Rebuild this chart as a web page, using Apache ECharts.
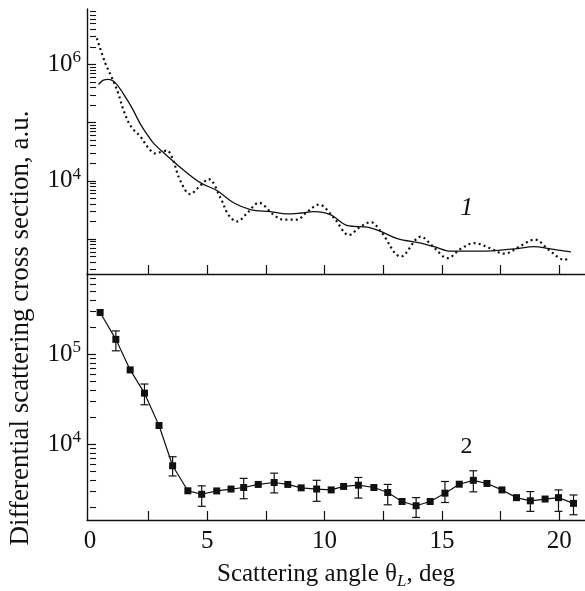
<!DOCTYPE html>
<html><head><meta charset="utf-8">
<script src="https://cdn.jsdelivr.net/npm/echarts@6/dist/echarts.min.js"></script>
<style>html,body{margin:0;padding:0;background:#fff}#c{width:585px;height:591px}</style>
</head><body><div id="c"></div>
<script>
// ---- Top panel: theoretical curves (angle, deg ; cross section, a.u.) ----
const solidAngles = [0.36,0.55,0.78,1.10,1.57,1.85,2.14,2.43,2.71,3.28,3.85,4.70,5.41,6.12,6.84,7.69,8.40,9.00,9.54,10.26,10.97,11.82,12.39,13.10,14.10,14.67,15.38,16.67,18.09,18.94,19.50,20.50];
const solidValues = [4.5e5,5.3e5,5.5e5,4.7e5,2.5e5,1.6e5,9.5e4,6.3e4,4.4e4,2.7e4,1.7e4,9.3e3,6.8e3,4.2e3,3.2e3,2.95e3,2.7e3,2.8e3,2.95e3,2.6e3,1.7e3,1.6e3,1.35e3,1.02e3,850,740,620,620,680,740,690,600];
const dottedAngles = [0.29,0.64,0.93,1.20,1.42,1.75,2.14,2.50,2.78,3.05,3.28,3.50,3.85,4.27,4.65,5.06,5.56,5.90,6.27,6.70,7.19,7.83,8.26,8.83,9.20,9.76,10.40,11.04,11.50,11.97,12.40,13.25,14.10,14.60,15.24,15.80,16.38,17.00,17.66,18.30,18.95,19.60,20.23,20.44];
const dottedValues = [2.8e6,1.07e6,5.9e5,3.2e5,1.66e5,8.5e4,5.8e4,3.6e4,2.95e4,3.16e4,3.3e4,2.5e4,1.0e4,5.9e3,7.9e3,1.07e4,5.1e3,2.6e3,2.0e3,2.8e3,4.2e3,2.6e3,2.15e3,2.15e3,2.8e3,3.9e3,2.3e3,1.17e3,1.6e3,1.95e3,1.35e3,500,1.1e3,760,470,680,850,710,560,740,980,630,440,480];

// ---- Bottom panel: experiment ----
const expAngles = [0.43,1.10,1.71,2.32,2.94,3.52,4.17,4.76,5.40,6.01,6.55,7.17,7.85,8.43,9.00,9.66,10.28,10.81,11.44,12.10,12.69,13.30,13.90,14.50,15.13,15.74,16.34,16.92,17.56,18.18,18.77,19.40,19.97,20.61];
const expValues = [2.9e5,1.46e5,6.7e4,3.7e4,1.62e4,5.8e3,3.06e3,2.8e3,3.05e3,3.2e3,3.33e3,3.6e3,3.78e3,3.6e3,3.3e3,3.2e3,3.13e3,3.42e3,3.53e3,3.33e3,2.93e3,2.33e3,2.09e3,2.33e3,2.88e3,3.62e3,4.0e3,3.69e3,3.13e3,2.57e3,2.37e3,2.48e3,2.57e3,2.22e3];
const errLow  = [null,1.09e5,null,2.75e4,null,4.47e3,null,2.06e3,null,null,2.5e3,null,2.9e3,null,null,2.34e3,null,null,2.54e3,null,2.14e3,null,1.55e3,null,2.27e3,null,2.98e3,null,null,null,1.81e3,null,1.81e3,1.66e3];
const errHigh = [null,1.81e5,null,4.67e4,null,7.3e3,null,3.47e3,null,null,4.2e3,null,4.8e3,null,null,4.0e3,null,null,4.3e3,null,3.6e3,null,2.57e3,null,3.88e3,null,5.1e3,null,null,null,3.0e3,null,3.13e3,2.75e3];

// ---- Axis ticks / labels ----
const xLabelValues = [0,5,10,15,20];
const xTickValues = [2.5,5,7.5,10,12.5,15,17.5,20];
const topYLabelValues = [1e4,1e6];
const bottomYLabelValues = [1e4,1e5];
const topYMajor = [1e3,1e4,1e5,1e6];
const bottomYMajor = [1e4,1e5];
const minorMultipliers = [2,3,4,5,6,7,8,9];
const topDecades = [1e2,1e3,1e4,1e5,1e6];
const bottomDecades = [1e3,1e4,1e5];

// curve labels: [text, angle, value]
const topCurveLabel = ['1', 16.06, 3.45e3];
const bottomCurveLabel = ['2', 16.05, 9.4e3];

const xTitle = 'Scattering angle θ';
const xTitleSub = 'L';
const xTitleEnd = ', deg';
const yTitle = 'Differential scattering cross section, a.u.';

const FONT = '"Liberation Serif", "Times New Roman", serif';
const INK = '#111';
const lg = Math.log10;

const TOP_MIN = 2.40, TOP_MAX = 6.95, BOT_MIN = 3.162, BOT_MAX = 5.889;
const X_MIN = -0.13, X_MAX = 21.1;

function minorTicks(decades, lo, hi){
  const out = [];
  decades.forEach(d => minorMultipliers.forEach(k => { const v = lg(k*d); if (v >= lo && v <= hi) out.push(v); }));
  return out;
}
const zip = (xs, ys) => xs.map((x,i) => [x, lg(ys[i])]);

const chart = echarts.init(document.getElementById('c'), null, {renderer:'canvas'});

const axisLineStyle = {color: INK, width: 1.4};
function xAxisDef(grid, showLabels){
  return {
    type:'value', gridIndex: grid, min: X_MIN, max: X_MAX,
    axisLine:{show:true, onZero:false, lineStyle: axisLineStyle},
    axisTick:{show:true, inside:true, length:9, customValues: xTickValues, lineStyle:{color:INK, width:1.2}},
    axisLabel:{show: showLabels, customValues: xLabelValues, margin: 9,
      fontFamily: FONT, fontSize: 25, color: INK},
    splitLine:{show:false}
  };
}
const supLabel = {
  show:true, margin:6, color: INK,
  formatter: v => '{b|10}{s|' + Math.round(v) + '}',
  rich: {
    b: {fontFamily: FONT, fontSize: 25, color: INK, lineHeight: 30},
    s: {fontFamily: FONT, fontSize: 17, color: INK, verticalAlign: 'top', lineHeight: 30, padding:[0,0,0,0]}
  }
};
function yMajor(grid, min, max, majors, labels){
  return {
    type:'value', gridIndex: grid, min, max, position:'left',
    axisLine:{show:true, onZero:false, lineStyle: axisLineStyle},
    axisTick:{show:true, inside:true, length:9, customValues: majors.map(lg), lineStyle:{color:INK, width:1.2}},
    axisLabel: Object.assign({customValues: labels.map(lg)}, supLabel),
    splitLine:{show:false}
  };
}
function yMinor(grid, min, max, decades){
  return {
    type:'value', gridIndex: grid, min, max, position:'left', offset:0,
    axisLine:{show:false},
    axisTick:{show:true, inside:true, length:6, customValues: minorTicks(decades, min, max), lineStyle:{color:INK, width:1.1}},
    axisLabel:{show:false},
    splitLine:{show:false}
  };
}

const errData = expAngles.map((x,i) => errLow[i] == null ? null : [x, lg(errLow[i]), lg(errHigh[i])]).filter(d => d);

const option = {
  animation:false,
  backgroundColor:'#fff',
  grid:[
    {left:87, right:0, top:9, height:265},
    {left:87, right:0, top:274, height:246}
  ],
  xAxis:[
    xAxisDef(0, false),
    Object.assign(xAxisDef(1, true), {
      name: '{a|' + xTitle + '}{sub|' + xTitleSub + '}{a|' + xTitleEnd + '}',
      nameLocation:'middle', nameGap: 38,
      nameTextStyle:{
        rich:{
          a:{fontFamily: FONT, fontSize: 25, color: INK, lineHeight: 32},
          sub:{fontFamily: FONT, fontSize: 17, fontStyle:'italic', color: INK, verticalAlign:'bottom', lineHeight: 32}
        }
      }
    })
  ],
  yAxis:[
    yMajor(0, TOP_MIN, TOP_MAX, topYMajor, topYLabelValues),
    yMinor(0, TOP_MIN, TOP_MAX, topDecades),
    yMajor(1, BOT_MIN, BOT_MAX, bottomYMajor, bottomYLabelValues),
    yMinor(1, BOT_MIN, BOT_MAX, bottomDecades)
  ],
  graphic:[{
    type:'text', x: 21, y: 328, rotation: Math.PI/2,
    style:{text: yTitle, font: '27px ' + FONT, fill: INK, align:'center', verticalAlign:'middle', textAlign:'center', textVerticalAlign:'middle'}
  }],
  series:[
    {type:'line', xAxisIndex:0, yAxisIndex:0, data: zip(solidAngles, solidValues), showSymbol:false, smooth:0.35,
     lineStyle:{color:INK, width:1.3}, silent:true},
    {type:'line', xAxisIndex:0, yAxisIndex:0, data: zip(dottedAngles, dottedValues), showSymbol:false, smooth:0.35,
     lineStyle:{color:INK, width:2.2, type:[2,3.2]}, silent:true},
    {type:'custom', xAxisIndex:1, yAxisIndex:2, data: errData, silent:true, z:3,
     renderItem:(params, api) => {
       const x = api.value(0);
       const p1 = api.coord([x, api.value(1)]);
       const p2 = api.coord([x, api.value(2)]);
       const w = 4;
       const st = {stroke: INK, lineWidth: 1.2};
       return {type:'group', children:[
         {type:'line', shape:{x1:p1[0], y1:p1[1], x2:p2[0], y2:p2[1]}, style:st},
         {type:'line', shape:{x1:p1[0]-w, y1:p1[1], x2:p1[0]+w, y2:p1[1]}, style:st},
         {type:'line', shape:{x1:p2[0]-w, y1:p2[1], x2:p2[0]+w, y2:p2[1]}, style:st}
       ]};
     }},
    {type:'line', xAxisIndex:1, yAxisIndex:2, data: zip(expAngles, expValues), symbol:'rect', symbolSize:7,
     itemStyle:{color:INK}, lineStyle:{color:INK, width:1.2}, z:4, silent:true},
    {type:'line', xAxisIndex:0, yAxisIndex:0, data:[[topCurveLabel[1], lg(topCurveLabel[2])]], symbol:'circle', symbolSize:1, showSymbol:true,
     itemStyle:{color:'rgba(0,0,0,0)', opacity:1}, lineStyle:{width:0}, silent:true,
     label:{show:true, position:'inside', formatter: topCurveLabel[0], fontFamily: FONT, fontSize: 26, fontStyle:'italic', color: INK, opacity:1, textBorderWidth:0}},
    {type:'line', xAxisIndex:1, yAxisIndex:2, data:[[bottomCurveLabel[1], lg(bottomCurveLabel[2])]], symbol:'circle', symbolSize:1, showSymbol:true,
     itemStyle:{color:'rgba(0,0,0,0)', opacity:1}, lineStyle:{width:0}, silent:true,
     label:{show:true, position:'inside', formatter: bottomCurveLabel[0], fontFamily: FONT, fontSize: 24, color: INK, opacity:1, textBorderWidth:0}}
  ]
};
chart.setOption(option);
</script>
</body></html>
